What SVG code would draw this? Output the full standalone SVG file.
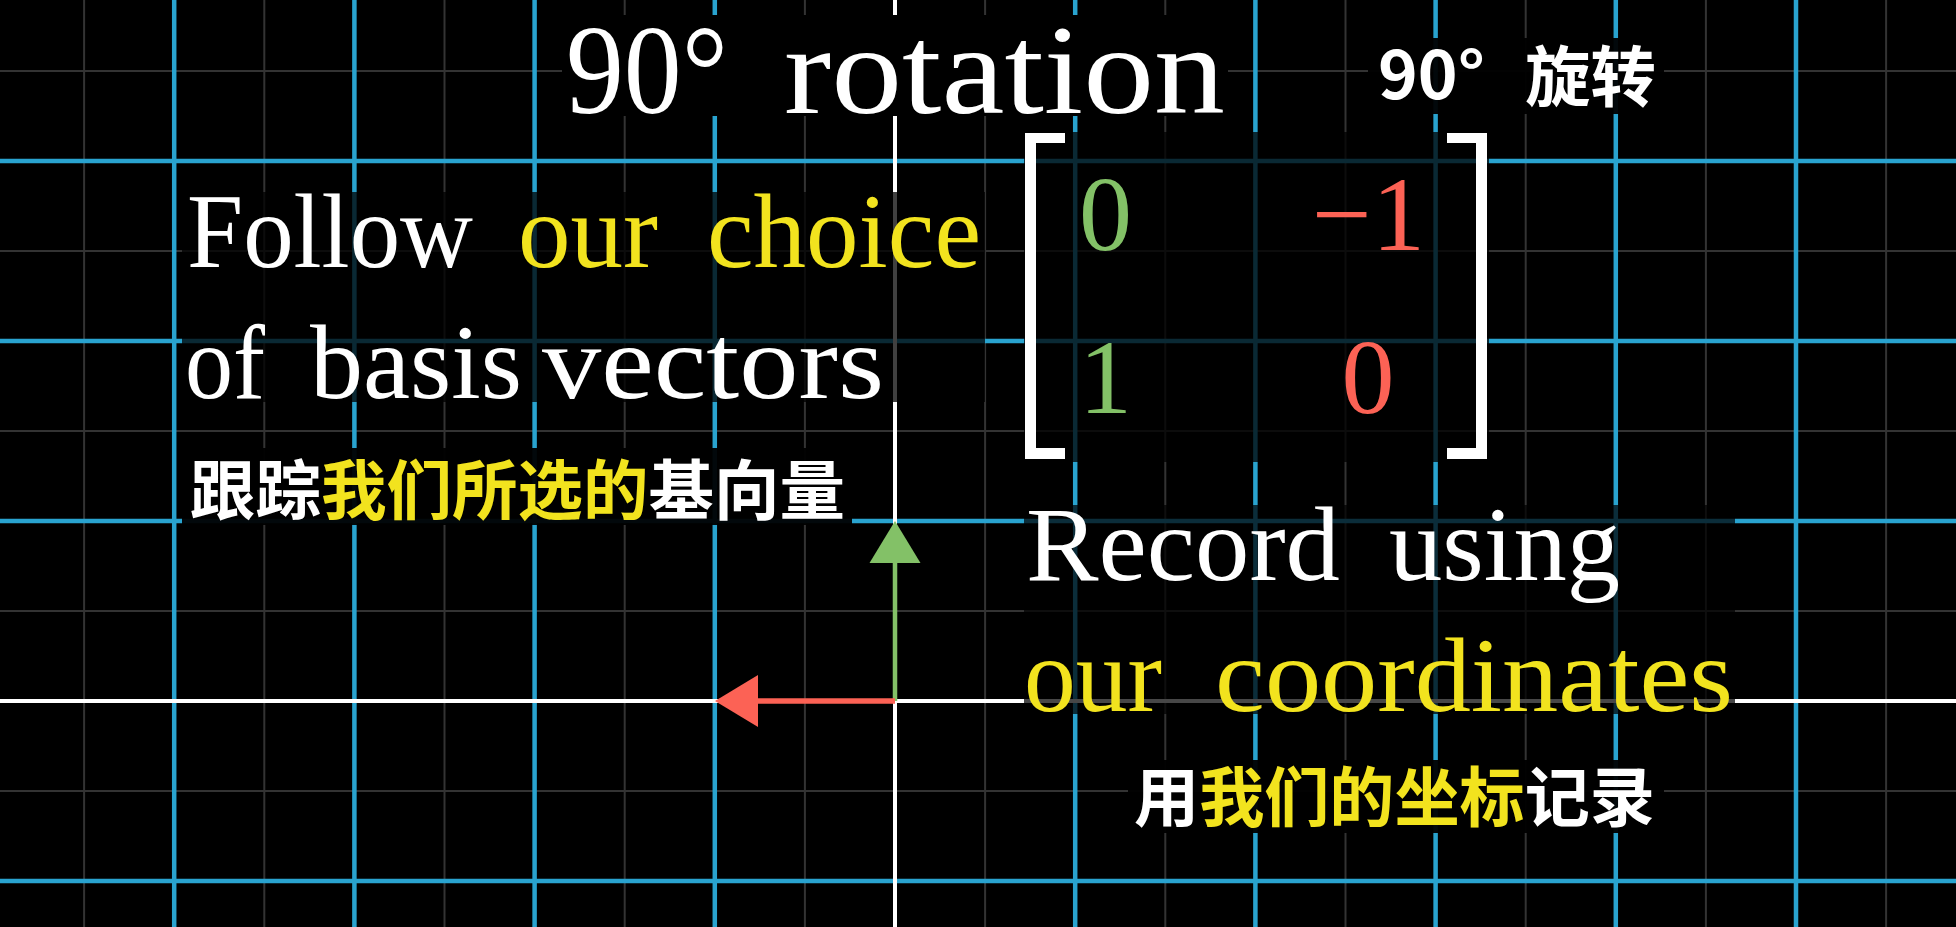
<svg xmlns="http://www.w3.org/2000/svg" width="1956" height="927" viewBox="0 0 1956 927">
<style>
.minor{stroke:#333333;stroke-width:2;fill:none}
.major{stroke:#29A3CF;stroke-width:4.5;fill:none}
.axis{stroke:#FFFFFF;stroke-width:4;fill:none}
.en{font-family:"Liberation Serif","Times New Roman",serif;fill:#FFFFFF}
.cn{font-family:"Noto Sans CJK SC","Noto Sans",sans-serif;font-weight:700;fill:#FFFFFF}
.y{fill:#F2E31E}
.g{fill:#83C167}
.r{fill:#FC6255}
.panel{fill:#000000}
</style>
<rect x="0" y="0" width="1956" height="927" fill="#000000"/>
<g id="grid">
<g id="minor-lines">
<path class="minor" d="M84.1 0V927M264.3 0V927M444.5 0V927M624.7 0V927M804.9 0V927M985.1 0V927M1165.3 0V927M1345.5 0V927M1525.7 0V927M1705.9 0V927M1886.1 0V927"/>
<path class="minor" d="M0 71H1956M0 251H1956M0 431H1956M0 611H1956M0 791H1956"/>
</g>
<g id="major-lines">
<path class="major" d="M174.2 0V927M354.4 0V927M534.6 0V927M714.8 0V927M1075.2 0V927M1255.4 0V927M1435.6 0V927M1615.8 0V927M1796 0V927"/>
<path class="major" d="M0 161H1956M0 341H1956M0 521H1956M0 881H1956"/>
</g>
<g id="axes">
<path class="axis" d="M0 701H1956M895 0V927"/>
</g>
</g>
<g id="vectors">
<g id="j-hat">
<line x1="895" y1="701" x2="895" y2="560" stroke="#83C167" stroke-width="4.5"/>
<polygon points="895,521 869.5,563 920.5,563" fill="#83C167"/>
</g>
<g id="i-hat">
<line x1="895" y1="701" x2="755" y2="701" stroke="#FC6255" stroke-width="5.5"/>
<polygon points="715,701 758,675 758,727" fill="#FC6255"/>
</g>
</g>
<g id="panels">
<rect class="panel" x="562" y="15" width="666" height="101" opacity="1"/>
<rect class="panel" x="1368" y="38" width="296" height="76" opacity="0.95"/>
<rect class="panel" x="182" y="192" width="803" height="210" opacity="0.75"/>
<rect class="panel" x="1024" y="132" width="465" height="330" opacity="0.75"/>
<rect class="panel" x="182" y="448" width="670" height="77" opacity="0.95"/>
<rect class="panel" x="1024" y="505" width="711" height="209" opacity="0.72"/>
<rect class="panel" x="1128" y="760" width="536" height="73" opacity="0.95"/>
</g>
<g id="title">
<text class="en" x="566" y="113" font-size="128" textLength="162" lengthAdjust="spacingAndGlyphs">90°</text>
<text class="en" x="784" y="113" font-size="128" textLength="441" lengthAdjust="spacingAndGlyphs">rotation</text>
</g>
<g id="title-cn">
<text class="cn" x="1378" y="99" font-size="66" textLength="107" lengthAdjust="spacingAndGlyphs">90°</text>
<text class="cn" x="1525" y="101" font-size="66" textLength="131" lengthAdjust="spacingAndGlyphs">旋转</text>
</g>
<g id="follow-text">
<text class="en" x="187" y="267" font-size="106" textLength="286" lengthAdjust="spacingAndGlyphs">Follow</text>
<text class="en y" x="518" y="267" font-size="106" textLength="140" lengthAdjust="spacingAndGlyphs">our</text>
<text class="en y" x="707" y="267" font-size="106" textLength="274" lengthAdjust="spacingAndGlyphs">choice</text>
<text class="en" x="185" y="398" font-size="106" textLength="80" lengthAdjust="spacingAndGlyphs">of</text>
<text class="en" x="310" y="398" font-size="106" textLength="212" lengthAdjust="spacingAndGlyphs">basis</text>
<text class="en" x="542" y="398" font-size="106" textLength="342" lengthAdjust="spacingAndGlyphs">vectors</text>
</g>
<g id="follow-cn">
<text class="cn" x="190" y="514" font-size="65" textLength="655" lengthAdjust="spacingAndGlyphs">跟踪<tspan class="y">我们所选的</tspan>基向量</text>
</g>
<g id="matrix">
<path fill="#FFFFFF" d="M1025 133H1065V143H1036V448H1065V459H1025Z"/>
<path fill="#FFFFFF" d="M1487 133H1447V143H1476V448H1447V459H1487Z"/>
<text class="en g" x="1105.5" y="250" font-size="106" text-anchor="middle">0</text>
<text class="en r" x="1368.5" y="250" font-size="106" text-anchor="middle">−1</text>
<text class="en g" x="1105.5" y="413" font-size="106" text-anchor="middle">1</text>
<text class="en r" x="1368" y="413" font-size="106" text-anchor="middle">0</text>
</g>
<g id="record-text">
<text class="en" x="1026" y="580" font-size="106" textLength="314" lengthAdjust="spacingAndGlyphs">Record</text>
<text class="en" x="1389" y="580" font-size="106" textLength="231" lengthAdjust="spacingAndGlyphs">using</text>
<text class="en y" x="1024" y="711" font-size="106" textLength="138" lengthAdjust="spacingAndGlyphs">our</text>
<text class="en y" x="1215" y="711" font-size="106" textLength="518" lengthAdjust="spacingAndGlyphs">coordinates</text>
</g>
<g id="record-cn">
<text class="cn" x="1134" y="821" font-size="65" textLength="521" lengthAdjust="spacingAndGlyphs">用<tspan class="y">我们的坐标</tspan>记录</text>
</g>
</svg>
